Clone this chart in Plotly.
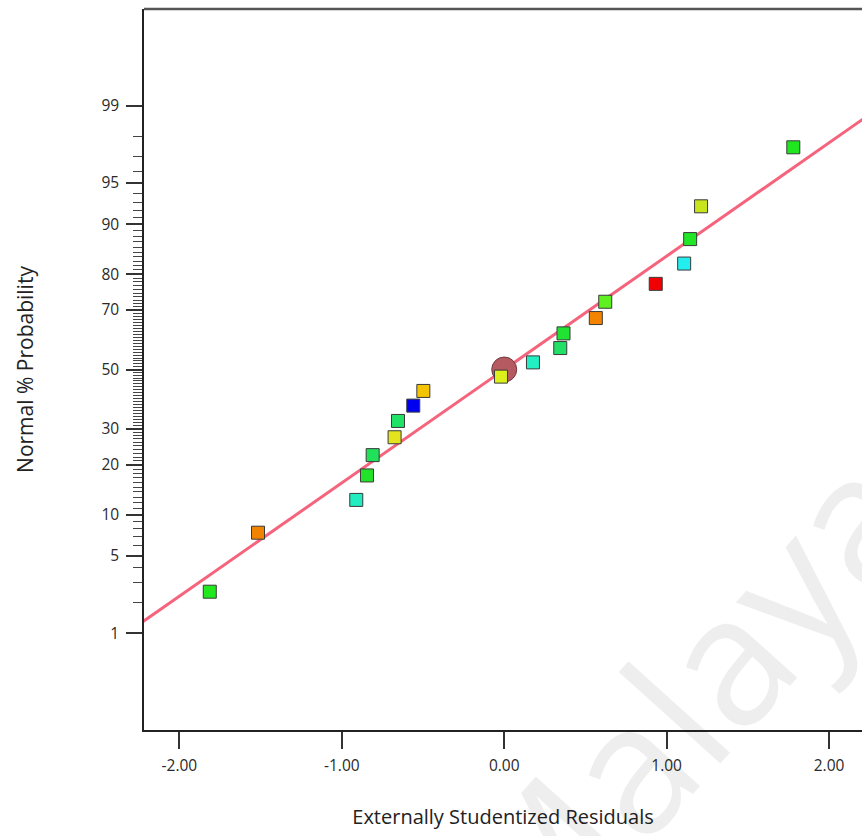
from statistics import NormalDist
import plotly.graph_objects as go

# Externally studentized residuals (sorted) and their normal % probability
residuals = [-1.813, -1.516, -0.911, -0.845, -0.810, -0.675, -0.654, -0.560, -0.498, -0.020,
             0.177, 0.345, 0.365, 0.564, 0.622, 0.933, 1.108, 1.145, 1.212, 1.780]
probability = [2.5, 7.5, 12.5, 17.5, 22.5, 27.5, 32.5, 37.5, 42.5, 47.5,
               52.5, 57.5, 62.5, 67.5, 72.5, 77.5, 82.5, 87.5, 92.5, 97.5]
point_colors = ["#22e81e", "#f08400", "#22ecc0", "#22e22a", "#20e25a", "#e4e41e", "#20e266",
                "#0000f0", "#f4c400", "#dcf01c", "#22f0c4", "#20e066", "#20e232", "#f48400",
                "#5ef020", "#f00000", "#22eef0", "#20e626", "#c8e41e", "#20e620"]

# Reference normal line (residual = normal quantile)
fit_x = [-2.4, 2.4]
fit_q = [-2.4, 2.4]

# Centre marker
centre_x = [0.0]
centre_p = [50.0]

# Probability axis labels
major_ticks = [1, 5, 10, 20, 30, 50, 70, 80, 90, 95, 99]
minor_ticks = [p for p in range(1, 100) if p not in major_ticks]
x_ticks = [-2, -1, 0, 1, 2]
x_tick_text = ["-2.00", "-1.00", "0.00", "1.00", "2.00"]

nd = NormalDist()


def probit(p):
    return nd.inv_cdf(p / 100.0)


fig = go.Figure()

# Watermark
fig.add_annotation(
    text="Malaya", xref="paper", yref="paper", x=0.75, y=0.04,
    xanchor="center", yanchor="middle",
    showarrow=False, textangle=-48,
    font=dict(family="Open Sans, Noto Sans, sans-serif", size=180, color="rgba(0,0,0,0.065)"),
)

fig.add_trace(go.Scatter(
    x=fit_x, y=fit_q, mode="lines",
    line=dict(color="#f5647c", width=3),
    hoverinfo="skip", showlegend=False,
))

fig.add_trace(go.Scatter(
    x=centre_x, y=[probit(p) for p in centre_p], mode="markers",
    marker=dict(symbol="circle", size=25, color="#b65a62",
                line=dict(color="#6e3a3e", width=1)),
    showlegend=False,
))

fig.add_trace(go.Scatter(
    x=residuals, y=[probit(p) for p in probability], mode="markers",
    marker=dict(symbol="square", size=13, color=point_colors,
                line=dict(color="#3a3a3a", width=1)),
    showlegend=False,
))

tick_font = dict(family="Open Sans, Noto Sans, sans-serif", size=15.5, color="#2a2a2a")

fig.update_xaxes(
    range=[-2.218, 2.203],
    tickvals=x_ticks, ticktext=x_tick_text,
    ticks="outside", ticklen=17, tickwidth=1.5, tickcolor="#333333",
    showline=True, linecolor="#222222", linewidth=1.5,
    showgrid=False, zeroline=False,
    tickfont=tick_font, ticklabelstandoff=4,
    title=dict(text="Externally Studentized Residuals",
               font=dict(family="Open Sans, Noto Sans, sans-serif", size=20, color="#222222"),
               standoff=35),
)

fig.update_yaxes(
    range=[-3.18, 3.18],
    tickvals=[probit(p) for p in major_ticks], ticktext=[str(p) for p in major_ticks],
    ticks="outside", ticklen=16, tickwidth=1.5, tickcolor="#333333",
    minor=dict(tickvals=[probit(p) for p in minor_ticks], ticks="outside",
               ticklen=9, tickwidth=1, tickcolor="#444444", showgrid=False),
    showline=True, linecolor="#222222", linewidth=1.5,
    showgrid=False, zeroline=False,
    tickfont=tick_font, ticklabelstandoff=4,
    title=dict(text="Normal % Probability",
               font=dict(family="Open Sans, Noto Sans, sans-serif", size=21, color="#222222"),
               standoff=62),
)

# Top frame line
fig.add_shape(type="line", xref="paper", yref="paper", x0=0, x1=1, y0=1, y1=1,
              line=dict(color="#555555", width=2.5))

fig.update_layout(
    width=862, height=836,
    margin=dict(l=144, r=0, t=9, b=106, autoexpand=False),
    paper_bgcolor="white", plot_bgcolor="white",
)

fig.write_html("out.html")
